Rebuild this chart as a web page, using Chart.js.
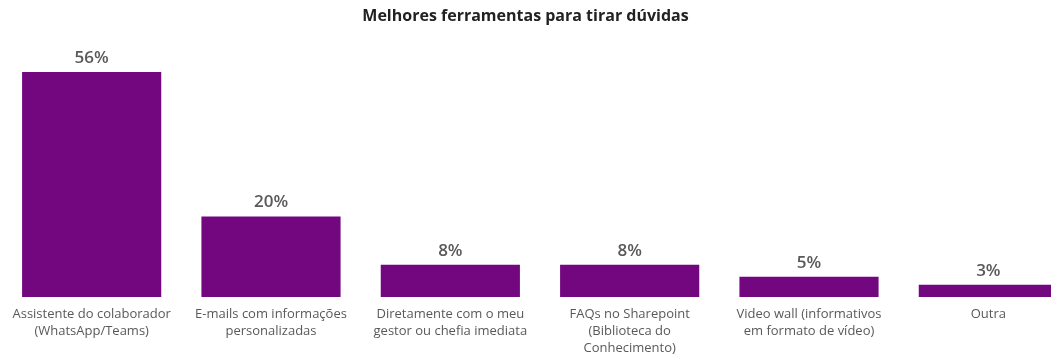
<!DOCTYPE html>
<html>
<head>
<meta charset="utf-8">
<script src="https://cdn.jsdelivr.net/npm/chart.js@4"></script>
<style>
  html, body { margin: 0; padding: 0; background: #fff; overflow: hidden; width: 1051px; height: 360px; }
  #wrap { position: absolute; left: 0; top: 0; width: 1078px; height: 370px; }
  #title { position: absolute; left: 0; top: 4px; width: 1051px; text-align: center;
           font: bold 16px "Open Sans", sans-serif; color: #222; z-index: 2; }
</style>
</head>
<body>
<div id="title">Melhores ferramentas para tirar dúvidas</div>
<div id="wrap"><canvas id="chart"></canvas></div>
<script>
const categories = [
  ['Assistente do colaborador', '(WhatsApp/Teams)'],
  ['E-mails com informações', 'personalizadas'],
  ['Diretamente com o meu', 'gestor ou chefia imediata'],
  ['FAQs no Sharepoint', '(Biblioteca do', 'Conhecimento)'],
  ['Video wall (informativos', 'em formato de vídeo)'],
  ['Outra']
];
const values = [56, 20, 8, 8, 5, 3];

// value on top of each bar
const valueLabels = {
  id: 'valueLabels',
  afterDatasetsDraw(chart) {
    const { ctx } = chart;
    const meta = chart.getDatasetMeta(0);
    ctx.save();
    ctx.textAlign = 'center';
    ctx.textBaseline = 'middle';
    ctx.fillStyle = '#595959';
    ctx.font = '600 17px "Open Sans", sans-serif';
    meta.data.forEach((bar, i) => {
      ctx.fillText(values[i] + '%', bar.x, bar.y - 14);
    });
    ctx.restore();
  },
};

const ctx = document.getElementById('chart');
new Chart(ctx, {
  type: 'bar',
  plugins: [valueLabels],
  data: {
    labels: categories,
    datasets: [{
      data: values,
      backgroundColor: '#72077f',
      barPercentage: 0.776,
      categoryPercentage: 1,
    }],
  },
  options: {
    responsive: true,
    maintainAspectRatio: false,
    animation: false,
    layout: { padding: { top: 56, left: 2, right: 0, bottom: 4 } },
    plugins: {
      legend: { display: false },
      tooltip: { enabled: false },
    },
    scales: {
      x: {
        grid: { display: false, drawTicks: false },
        border: { display: false },
        ticks: {
          padding: 9,
          maxRotation: 0,
          autoSkip: false,
          color: '#595959',
          font: { family: '"Open Sans", sans-serif', size: 13, lineHeight: 1.31 },
        },
      },
      y: {
        display: false,
        min: 0,
        max: 60,
      },
    },
  },
});
</script>
</body>
</html>
